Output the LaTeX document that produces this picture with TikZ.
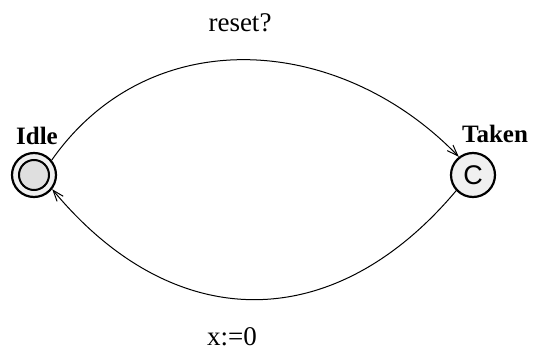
\documentclass[tikz,border=0pt]{standalone}
\usepackage{fontspec}
\setmainfont{Liberation Serif}
\newfontfamily\csans{Liberation Sans}
\usetikzlibrary{arrows.meta}
\begin{document}
\begin{tikzpicture}[x=1pt,y=-1pt,
  loc/.style={circle,draw,line width=2.2pt,minimum size=44pt,inner sep=0pt,fill=gray!12},
  innerloc/.style={circle,draw,line width=2pt,minimum size=30pt,inner sep=0pt,fill=gray!25},
  lbl/.style={anchor=base,font=\bfseries\fontsize{25}{25}\selectfont},
  elbl/.style={anchor=base,font=\fontsize{27}{27}\selectfont},
  edge/.style={line width=1pt,-{Straight Barb[length=11pt,width=8pt]}}]
\useasboundingbox (0,0) rectangle (533,350);
\node[loc] (idle) at (34,175) {};
\node[innerloc] (idlein) at (34,175) {};
\node[loc] (taken) at (473,175) {\csans\fontsize{27}{27}\selectfont C};
\node[lbl] (idlelbl) at (37,145) {Idle};
\node[lbl] (takenlbl) at (495,143) {Taken};
\node[elbl] (reset) at (240,32) {reset?};
\node[elbl] (assign) at (232,345) {x:=0};
\draw[edge] (idle.40) .. controls (150,20) and (340,34) .. (taken.128);
\draw[edge] (taken.-137) .. controls (334,336) and (174,336) .. (idle.-38);
\end{tikzpicture}
\end{document}
